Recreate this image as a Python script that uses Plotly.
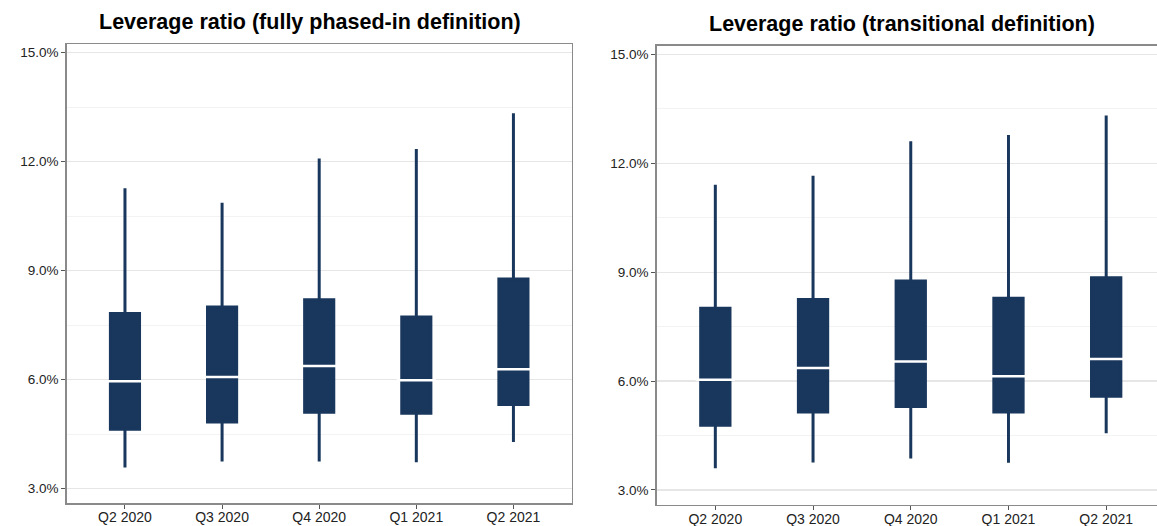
import plotly.graph_objects as go

# ---------------- data (leverage ratio, %) ----------------
quarters = ["Q2 2020", "Q3 2020", "Q4 2020", "Q1 2021", "Q2 2021"]

# Fully phased-in definition
fp_low = [3.58, 3.74, 3.74, 3.72, 4.28]
fp_q1 = [4.63, 4.83, 5.10, 5.07, 5.31]
fp_med = [5.95, 6.07, 6.37, 5.98, 6.28]
fp_q3 = [7.82, 8.00, 8.20, 7.72, 8.77]
fp_high = [11.27, 10.87, 12.09, 12.35, 13.33]

# Transitional definition
tr_low = [3.60, 3.76, 3.87, 3.75, 4.56]
tr_q1 = [4.78, 5.15, 5.30, 5.15, 5.58]
tr_med = [6.04, 6.36, 6.54, 6.13, 6.61]
tr_q3 = [8.01, 8.25, 8.76, 8.28, 8.85]
tr_high = [11.41, 11.66, 12.61, 12.78, 13.32]

y_tickvals = [3, 6, 9, 12, 15]
y_ticktext = ["3.0%", "6.0%", "9.0%", "12.0%", "15.0%"]

titles = ["Leverage ratio (fully phased-in definition)",
          "Leverage ratio (transitional definition)"]

# ---------------- styling ----------------
NAVY = "#19375C"
BORDER = "#8a8a8a"
GRID = "#E6E6E6"
MINOR = "#F3F3F3"
FONT = "Liberation Sans, Arial, sans-serif"

fig = go.Figure()

def add_panel(lo, q1, med, q3, hi, xa, ya):
    fig.add_trace(go.Box(
        x=quarters, lowerfence=lo, q1=q1, median=med, q3=q3, upperfence=hi,
        fillcolor=NAVY, line=dict(color=NAVY, width=3), width=0.30,
        whiskerwidth=0, boxpoints=False, showlegend=False,
        xaxis=xa, yaxis=ya, hoverinfo="skip"))
    fig.add_trace(go.Scatter(
        x=quarters, y=med, mode="markers", showlegend=False,
        marker=dict(symbol="line-ew", size=28, color="white",
                    line=dict(color="white", width=2.5)),
        xaxis=xa, yaxis=ya, hoverinfo="skip"))

add_panel(fp_low, fp_q1, fp_med, fp_q3, fp_high, "x", "y")
add_panel(tr_low, tr_q1, tr_med, tr_q3, tr_high, "x2", "y2")

W, H = 1157, 526

def xaxis_cfg(domain, rng):
    return dict(domain=domain, type="category", categoryorder="array",
                categoryarray=quarters, range=rng, showgrid=False,
                showline=True, mirror=True, linecolor=BORDER, linewidth=1.5,
                ticks="outside", ticklen=4, tickcolor="#555", tickwidth=1,
                ticklabelstandoff=-3,
                tickfont=dict(family=FONT, size=14, color="#222"),
                zeroline=False, fixedrange=True, automargin=False)

def yaxis_cfg(domain, anchor, mirror):
    return dict(domain=domain, anchor=anchor, range=[2.6, 15.24],
                tickvals=y_tickvals, ticktext=y_ticktext,
                showgrid=True, gridcolor=GRID, gridwidth=1.2,
                minor=dict(tickvals=[4.5, 7.5, 10.5, 13.5], showgrid=True,
                           gridcolor=MINOR, gridwidth=1, ticks=""),
                showline=True, mirror=mirror, linecolor=BORDER, linewidth=1.5,
                ticks="outside", ticklen=4, tickcolor="#555", tickwidth=1,
                tickfont=dict(family=FONT, size=13.5, color="#222"),
                zeroline=False, fixedrange=True, automargin=False)

fig.update_layout(
    width=W, height=H,
    margin=dict(l=0, r=0, t=0, b=0, pad=0),
    paper_bgcolor="white", plot_bgcolor="white",
    xaxis=xaxis_cfg([66.7 / W, 571.7 / W], [-0.6, 4.6]),
    yaxis=yaxis_cfg([(H - 503) / H, (H - 44) / H], "x", True),
    xaxis2=xaxis_cfg([656.7 / W, 1.0], [-0.6, 4.52]) | dict(anchor="y2"),
    yaxis2=yaxis_cfg([(H - 504.5) / H, (H - 45.7) / H], "x2", False),
    annotations=[
        dict(text="<b>%s</b>" % titles[0], x=310 / W, y=1 - 22 / H,
             xref="paper", yref="paper", showarrow=False,
             xanchor="center", yanchor="middle",
             font=dict(family=FONT, size=21.5, color="black")),
        dict(text="<b>%s</b>" % titles[1], x=902 / W, y=1 - 24 / H,
             xref="paper", yref="paper", showarrow=False,
             xanchor="center", yanchor="middle",
             font=dict(family=FONT, size=21.5, color="black")),
    ],
)

fig.write_html("out.html",
               config=dict(displayModeBar=False, staticPlot=True),
               post_script="document.body.style.margin='0';"
                           "document.body.style.overflow='hidden';")
